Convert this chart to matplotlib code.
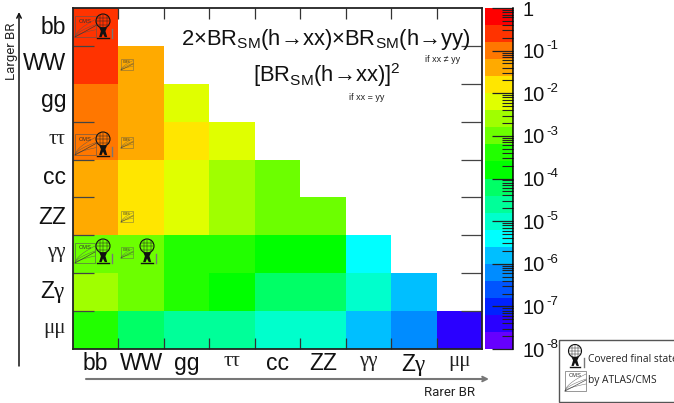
import numpy as np
import matplotlib
matplotlib.use("Agg")
import matplotlib.pyplot as plt
import matplotlib.ticker as mticker
from matplotlib.colors import ListedColormap, BoundaryNorm
from matplotlib.patches import Rectangle, Circle, Polygon

plt.rcParams['font.family'] = ['Liberation Sans', 'DejaVu Sans']
plt.rcParams['mathtext.fontset'] = 'custom'
plt.rcParams['mathtext.rm'] = 'Liberation Sans'
plt.rcParams['mathtext.it'] = 'Liberation Sans'
plt.rcParams['mathtext.tt'] = 'Liberation Serif'
plt.rcParams['mathtext.default'] = 'regular'

channels = ["bb", "WW", "gg", "ττ", "cc", "ZZ", "γγ", "Zγ", "μμ"]

# decay-rate products, top row (bb) to bottom row (mumu); missing = empty cell
row_bb = [3.0e-1]
row_ww = [2.0e-1, 4.0e-2]
row_gg = [8.0e-2, 3.5e-2, 6.5e-3]
row_tt = [7.0e-2, 2.7e-2, 1.5e-2, 6.5e-3]
row_cc = [3.4e-2, 1.2e-2, 6.0e-3, 2.5e-3, 1.0e-3]
row_zz = [3.0e-2, 1.1e-2, 5.5e-3, 2.2e-3, 9.0e-4, 8.5e-4]
row_aa = [1.2e-3, 9.0e-4, 3.5e-4, 2.9e-4, 1.5e-4, 1.4e-4, 5.0e-6]
row_za = [1.7e-3, 7.5e-4, 3.0e-4, 1.9e-4, 8.5e-5, 7.8e-5, 7.0e-6, 2.0e-6]
row_mm = [3.0e-4, 9.5e-5, 3.6e-5, 2.8e-5, 1.3e-5, 1.1e-5, 1.8e-6, 6.6e-7, 4.8e-8]
rows = [row_bb, row_ww, row_gg, row_tt, row_cc, row_zz, row_aa, row_za, row_mm]

band_colors = ["#ff0000", "#ff3300", "#ff7700", "#ffaa00", "#ffe600",
               "#e0ff00", "#a0ff00", "#6cff00", "#22ff00", "#00ff00",
               "#00ff66", "#00ff99", "#00ffcc", "#00ffff", "#00bfff",
               "#008cff", "#0055ff", "#0022ff", "#2a00ff", "#6600ff"]
colorbar_ticks = [1, 1e-1, 1e-2, 1e-3, 1e-4, 1e-5, 1e-6, 1e-7, 1e-8]
colorbar_exponents = ["", "-1", "-2", "-3", "-4", "-5", "-6", "-7", "-8"]

W, H = 674, 403
fig = plt.figure(figsize=(W / 100, H / 100), dpi=100)


def box(x0, y0, x1, y1):
    return [x0 / W, 1 - y1 / H, (x1 - x0) / W, (y1 - y0) / H]


n = len(channels)
Z = np.full((n, n), np.nan)
for i, r in enumerate(rows):
    Z[i, :len(r)] = r

levels = np.logspace(-8, 0, len(band_colors) + 1)
cmap = ListedColormap(band_colors[::-1])
cmap.set_bad((1, 1, 1, 0))
norm = BoundaryNorm(levels, cmap.N)

ax = fig.add_axes(box(73, 8, 482, 349))
ax.pcolormesh(np.arange(n + 1), np.arange(n + 1), np.ma.masked_invalid(Z),
              cmap=cmap, norm=norm, shading="flat")
ax.set_xlim(0, n)
ax.set_ylim(n, 0)
ax.set_xticks(np.arange(1, n))
ax.set_yticks(np.arange(1, n))
ax.tick_params(axis="x", direction="in", length=8, width=0.9,
               top=True, bottom=True, labelbottom=False, color="#333333")
ax.tick_params(axis="y", direction="in", length=15, width=0.9,
               left=True, right=True, labelleft=False, color="#444444")
ax.yaxis.get_major_ticks()[1].tick1line.set_visible(False)
for s in ax.spines.values():
    s.set_linewidth(1.3)
    s.set_color("#222222")

greek = {"family": "Liberation Serif", "color": "#222222"}
sans = {"color": "#111111"}
styles = {"bb": (16.5, sans), "WW": (16.5, sans), "gg": (16.5, sans), "ττ": (15, greek),
          "cc": (16.5, sans), "ZZ": (16.5, sans), "γγ": (15, greek), "Zγ": (16.5, sans),
          "μμ": (15, greek)}
shown = {"Zγ": r"Z$\mathtt{γ}$"}
left_y = [27, 64, 100, 140, 177, 218, 253, 292, 329]
for i, c in enumerate(channels):
    size, kw = styles[c]
    label = shown.get(c, c)
    ax.text(i + 0.5, n + 0.09, label, ha="center", va="top", fontsize=size, clip_on=False, **kw)
    fig.text(66 / W, 1 - left_y[i] / H, label, ha="right", va="center", fontsize=size, **kw)

# formula
fig.text(326 / W, 1 - 39 / H, "2×BR$_{SM}$(h→xx)×BR$_{SM}$(h→yy)", ha="center",
         va="center", fontsize=15.8, color="#111111")
fig.text(327 / W, 1 - 75 / H, "[BR$_{SM}$(h→xx)]$^{2}$", ha="center", va="center",
         fontsize=15.8, color="#111111")
fig.text(443 / W, 1 - 60 / H, "if xx ≠ yy", ha="center", va="center", fontsize=6.5, color="#222222")
fig.text(367 / W, 1 - 97 / H, "if xx = yy", ha="center", va="center", fontsize=6.5, color="#222222")

# arrows and axis captions
fig.add_artist(plt.Annotation("", xy=(19 / W, 1 - 12 / H), xytext=(19 / W, 1 - 366 / H),
                              xycoords="figure fraction", textcoords="figure fraction",
                              arrowprops=dict(arrowstyle="->", lw=1.1, color="#111111", mutation_scale=8,
                                              shrinkA=0, shrinkB=0)))
fig.add_artist(plt.Annotation("", xy=(489 / W, 1 - 379 / H), xytext=(86 / W, 1 - 379 / H),
                              xycoords="figure fraction", textcoords="figure fraction",
                              arrowprops=dict(arrowstyle="->", lw=1.5, color="#777777", mutation_scale=8,
                                              shrinkA=0, shrinkB=0)))
fig.text(11 / W, 1 - 51 / H, "Larger BR", rotation=90, ha="center", va="center", fontsize=9.5,
         color="#222222", family="Roboto")
fig.text(449 / W, 1 - 393 / H, "Rarer BR", ha="center", va="center", fontsize=9.5,
         color="#222222", family="Roboto")

# colour bar
cax = fig.add_axes(box(485, 8, 513, 349))
cax.pcolormesh([0, 1], levels, np.arange(len(levels) - 1)[:, None], cmap=cmap,
               vmin=-0.5, vmax=len(levels) - 1.5, shading="flat")
cax.set_yscale("log")
cax.set_ylim(1e-8, 1)
cax.set_xticks([])
cax.yaxis.tick_right()
cax.set_yticks(colorbar_ticks)
cax.set_yticklabels([])
cax.yaxis.set_minor_locator(mticker.LogLocator(base=10, subs=np.arange(2, 10), numticks=12))
cax.yaxis.set_minor_formatter(mticker.NullFormatter())
cax.tick_params(axis="y", which="major", direction="in", length=15, width=0.9, color="#222222")
cax.tick_params(axis="y", which="minor", direction="in", length=8, width=0.8, color="#222222")
for k in ("top", "left", "bottom"):
    cax.spines[k].set_visible(False)
cax.spines["right"].set_linewidth(1.1)
for v, e in zip(colorbar_ticks, colorbar_exponents):
    base = "10" if e else "1"
    cax.annotate(base, (1, v), xycoords=("axes fraction", "data"), xytext=(7.2, -1.5),
                 textcoords="offset points", va="center", ha="left", fontsize=14.5, color="#111111",
                 annotation_clip=False)
    if e:
        cax.annotate(e, (1, v), xycoords=("axes fraction", "data"), xytext=(24, 3),
                     textcoords="offset points", va="center", ha="left", fontsize=9.5, color="#111111",
                     annotation_clip=False)

# overlay drawn in pixel coordinates
ov = fig.add_axes([0, 0, 1, 1], facecolor="none")
ov.set_xlim(0, W)
ov.set_ylim(H, 0)
ov.axis("off")


def cms(x, y, w, h, alpha=0.85):
    ov.add_patch(Rectangle((x, y), w, h, fill=False, ec="#555555", lw=0.5, alpha=alpha))
    t = np.linspace(0, 1, 20)
    for a in (0.35, 0.6, 0.85):
        ov.plot(x + w * t, y + h - h * a * t ** 0.6, color="#555555", lw=0.35, alpha=alpha)
    ov.plot([x, x + w], [y + h, y + h * 0.45], color="#333333", lw=0.5, alpha=alpha)
    ov.text(x + w * 0.5, y + h * 0.24, "CMS", fontsize=4.2 if h > 15 else 2.5,
            ha="center", va="center", color="#333333")


def atlas(x, y, r=7.0):
    ov.add_patch(Circle((x, y), r, fill=False, ec="#111111", lw=0.8))
    for f in (-0.5, 0.0, 0.5):
        ov.plot([x + f * r, x + f * r], [y - 0.85 * r, y + 0.85 * r], color="#222222", lw=0.35)
        ov.plot([x - 0.85 * r, x + 0.85 * r], [y + f * r, y + f * r], color="#222222", lw=0.35)
    figure = [(-0.55, 0.9), (0.6, 0.9), (0.35, 1.45), (0.6, 2.3), (0.25, 2.3), (0.0, 1.8),
              (-0.2, 2.3), (-0.55, 2.3), (-0.3, 1.45)]
    ov.add_patch(Polygon([(x + a * r, y + b * r) for a, b in figure], closed=True, color="#111111", lw=0))
    ov.plot([x - 0.8 * r, x + 0.8 * r], [y + 2.4 * r, y + 2.4 * r], color="#111111", lw=1)
    ov.plot([x + 1.35 * r, x + 1.35 * r], [y + 1.1 * r, y + 2.4 * r], color="#777777", lw=1)


cms(75, 16, 21, 21)
atlas(103, 21)
cms(75, 134, 21, 21)
atlas(103, 139)
cms(75, 243, 20, 20)
atlas(103, 246)
atlas(147, 246)
for cx, cy in ((121, 59), (121, 137), (121, 211), (121, 247)):
    cms(cx, cy, 12, 11, alpha=0.6)

# covered-final-state legend
ov.add_patch(Rectangle((559, 340), 130, 62, fill=False, ec="#555555", lw=1.0))
atlas(575, 351, 6.5)
cms(565, 371, 21, 20)
ov.text(588, 359, "Covered final state", fontsize=7.4, ha="left", va="center", color="#222222",
        family="Open Sans")
ov.text(588, 381, "by ATLAS/CMS", fontsize=7.4, ha="left", va="center", color="#222222",
        family="Open Sans")

fig.savefig("out.png", dpi=100)
